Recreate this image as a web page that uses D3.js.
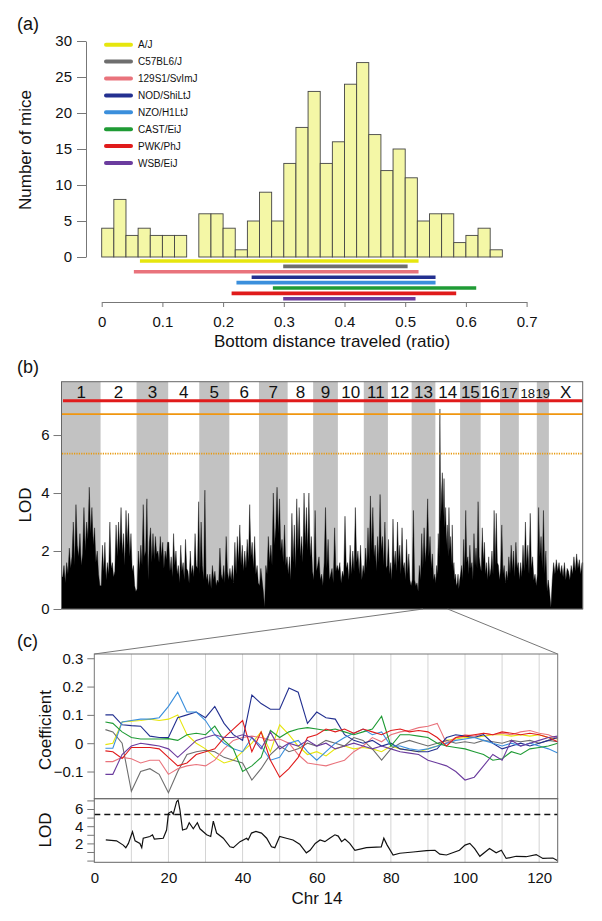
<!DOCTYPE html>
<html><head><meta charset="utf-8">
<script src="https://cdn.jsdelivr.net/npm/d3@7"></script>
<style>
body{margin:0;background:#fff}
text{font-family:"Liberation Sans",Arial,sans-serif;fill:#111}
</style>
</head><body>
<svg id="c" width="602" height="921"></svg>
<script>
// ---------------- Panel (a) data ----------------
const binStarts = [0,0.02,0.04,0.06,0.08,0.10,0.12,0.14,0.16,0.18,0.20,0.22,0.24,0.26,0.28,0.30,0.32,0.34,0.36,0.38,0.40,0.42,0.44,0.46,0.48,0.50,0.52,0.54,0.56,0.58,0.60,0.62,0.64];
const binWidth = 0.02;
const counts = [4,8,3,4,3,3,3,0,6,6,4,1,5,9,5,13,18,23,13,16,24,27,17,12,15,11,5,6,6,2,3,4,1];
const histYTicks = [0,5,10,15,20,25,30];
const histXTicks = [0,0.1,0.2,0.3,0.4,0.5,0.6,0.7];
const strainNames = ["A/J","C57BL6/J","129S1/SvImJ","NOD/ShiLtJ","NZO/H1LtJ","CAST/EiJ","PWK/PhJ","WSB/EiJ"];
const strainColors = ["#e6e60e","#6e6e6e","#e9737c","#233090","#3b8fdc","#1f9b35","#e01b1b","#6b3c9e"];
const rangeLo = [0.063,0.299,0.053,0.247,0.222,0.282,0.214,0.299];
const rangeHi = [0.522,0.504,0.522,0.550,0.550,0.617,0.584,0.517];

// ---------------- Panel (b) data ----------------
const chromNames = ["1","2","3","4","5","6","7","8","9","10","11","12","13","14","15","16","17","18","19","X"];
const chromLen = [195,182,160,157,152,150,145,129,125,131,122,120,120,125,104,98,95,91,61,171];
const scanLod = [
 [1.1,1.5,0.9,1.6,1.2,2.1,1.4,1.8,3.0,1.5,3.6,2.2,1.8,2.6,1.5,1.9,3.5,2.0,3.0,2.4,4.2,2.6,3.5,2.2,2.8,1.6,2.0,1.2,0.8],
 [0.8,2.2,1.3,2.3,1.0,1.6,1.2,3.0,1.4,1.6,1.1,1.3,2.9,1.8,3.0,2.0,3.5,1.9,2.6,1.5,3.4,2.2,3.3,1.8,2.6,1.3,1.5,0.8,0.6],
 [0.7,2.0,1.3,2.2,1.5,3.6,1.8,2.0,3.8,1.0,2.3,2.8,1.6,2.6,1.7,2.5,1.9,2.0,1.6,2.5,1.8,2.3,1.4,2.0,1.7,2.3],
 [2.3,1.3,1.8,1.1,2.6,1.5,2.0,1.2,1.5,0.9,2.2,1.3,1.6,1.0,2.4,1.4,1.3,0.9,2.0,1.2,1.5,1.1,2.6,1.5,1.4,3.7],
 [1.2,3.0,1.5,1.0,4.1,1.0,1.2,0.8,1.2,0.7,1.5,1.0,1.3,0.8,1.0,0.9,2.1,1.2,1.0,1.5,0.9,2.5,1.3,1.0],
 [1.4,1.0,1.5,0.9,2.3,1.2,2.5,1.6,2.9,1.5,2.2,1.3,2.0,1.4,2.4,1.6,3.6,1.8,2.3,1.4,2.5,1.2,1.5,0.9],
 [0.8,1.4,1.0,0.6,0.05,1.5,1.2,2.5,1.6,2.2,1.5,4.0,2.2,2.8,4.2,2.6,3.8,2.0,2.4,1.6,2.9,1.5,1.8],
 [1.2,1.8,1.0,3.3,1.6,2.9,1.4,3.8,2.0,3.5,1.8,2.5,1.6,4.0,2.2,3.5,2.0,4.0,1.8,2.5,1.3],
 [1.0,3.4,1.3,1.5,1.8,1.0,1.2,0.8,1.6,3.5,1.4,2.4,1.0,1.2,1.4,0.9,2.8,1.3,1.5],
 [1.3,1.6,0.9,1.3,1.1,3.2,1.4,1.6,1.0,2.2,1.2,2.0,1.3,3.5,1.6,2.0,1.2,2.2,1.0,1.5],
 [1.2,2.1,1.4,2.8,1.6,3.9,2.0,3.5,1.8,2.2,1.3,2.5,1.6,3.95,2.0,2.5,1.5,3.0,1.4,1.5],
 [2.4,1.2,1.6,1.0,3.1,1.5,2.0,1.3,3.0,1.6,2.2,1.2,2.8,1.4,1.6,1.0,2.4,1.2,1.9,1.0,0.8],
 [1.0,3.4,1.0,0.8,0.9,0.6,1.5,1.0,2.6,1.4,2.8,1.6,2.2,3.8,1.8,2.5,1.4,1.9,1.0,1.2],
 [0.9,1.5,1.2,2.6,1.8,6.9,3.0,4.0,4.7,3.2,4.5,2.8,3.5,2.2,2.9,1.8,3.5,2.0,2.5,1.5,2.9,1.3,1.6,1.0,1.2,0.8,0.9,1.2,0.7,1.0],
 [1.2,1.5,1.0,2.4,1.3,3.4,1.6,1.8,1.2,2.2,1.4,1.6,1.0,2.6,1.5,2.1,1.4,3.7,1.8,1.5],
 [1.3,2.8,1.6,2.3,1.2,1.6,1.0,1.8,1.1,1.4,2.0,1.2,3.4,1.5,3.3,1.6,1.5,1.0],
 [1.4,2.9,1.2,1.5,0.9,1.3,1.0,1.8,1.2,2.2,1.3,2.0,1.1,2.3,1.4,1.6],
 [1.0,1.6,1.1,2.2,1.3,3.0,1.5,2.2,1.2,3.3,1.4,1.8,1.0,1.2,0.8],
 [1.2,3.5,1.8,2.5,1.4,3.4,1.2,2.0,0.6,1.0],
 [0.6,0.05,1.0,1.6,1.2,1.7,1.3,1.6,1.2,1.5,1.1,1.6,1.0,1.4,1.3,1.0,1.5,1.2,1.8,1.3,1.9,1.4,1.7,1.2,1.6]
];
const scanYTicks = [0,2,4,6];
const thresholds = [7.18, 6.72, 5.36];

// ---------------- Panel (c) data ----------------
const coefPos = [3,5,7.5,10,12.5,15,17.5,20,22.5,25,27.5,30,32.5,35,37.5,40,42.5,45,47.5,50,52.5,55,57.5,60,62.5,65,67.5,70,72.5,75,77.5,80,82.5,85,87.5,90,92.5,95,97.5,100,102.5,105,107.5,110,112.5,115,117.5,120,122.5,125];
const coefAJ   = [-0.005,0.0,0.075,0.078,0.08,0.085,0.08,0.085,0.1,0.03,0.0,-0.02,-0.05,-0.07,-0.06,-0.03,0.0,0.04,-0.03,0.065,0.03,-0.01,-0.04,-0.03,-0.045,-0.02,-0.01,-0.02,-0.015,-0.02,-0.03,-0.01,-0.02,-0.025,-0.03,-0.02,-0.01,0.01,0.015,0.02,0.02,0.025,0.03,0.03,0.025,0.03,0.025,0.03,0.02,0.015];
const coefB6   = [0.048,0.04,0.0,-0.17,-0.1,-0.09,-0.11,-0.175,-0.1,-0.04,-0.03,-0.025,-0.03,-0.05,-0.06,-0.07,-0.13,-0.09,-0.04,-0.01,-0.03,-0.02,0.0,-0.01,0.01,0.0,-0.01,0.02,0.01,-0.02,-0.06,-0.02,0.0,0.01,0.0,-0.01,0.0,0.01,0.0,0.005,0.0,0.01,0.005,0.0,0.01,0.005,0.01,0.0,0.01,0.005];
const coef129  = [-0.065,-0.065,-0.05,-0.055,-0.07,-0.06,-0.06,-0.11,-0.09,-0.08,-0.075,-0.08,-0.06,-0.02,0.01,0.02,0.025,0.02,0.01,0.015,0.0,-0.04,-0.07,-0.075,-0.08,-0.07,-0.06,-0.03,-0.01,0.02,0.005,0.03,0.04,0.045,0.055,0.06,0.07,0.0,0.02,0.03,0.025,0.035,0.03,0.035,0.03,0.04,0.045,0.035,0.03,0.015];
const coefNOD  = [0.1,0.1,0.065,0.062,0.06,0.025,0.02,0.02,0.09,0.1,0.11,0.09,0.13,0.07,0.03,0.01,0.17,0.14,0.12,0.12,0.195,0.18,0.07,0.11,0.09,0.085,0.03,0.01,0.0,0.01,-0.01,0.0,-0.02,-0.025,-0.03,-0.03,-0.02,0.02,0.03,0.025,0.02,0.03,0.0,-0.02,-0.01,0.0,-0.01,0.0,0.01,0.02];
const coefNZO  = [-0.018,-0.018,0.075,0.08,0.085,0.085,0.09,0.13,0.18,0.11,0.11,0.08,0.03,0.0,-0.02,-0.03,0.02,-0.01,-0.06,-0.05,0.0,0.01,-0.03,-0.06,-0.03,0.0,0.02,0.035,0.05,0.03,0.04,-0.01,-0.01,-0.02,-0.025,-0.02,-0.01,0.0,0.01,0.015,0.02,0.01,0.0,-0.01,0.0,-0.01,0.0,-0.01,-0.02,-0.035];
const coefCAST = [0.075,0.07,0.04,0.02,0.015,0.015,0.015,0.016,0.01,0.03,0.035,0.03,0.06,0.01,-0.02,-0.1,-0.08,-0.05,0.045,0.02,0.04,0.05,0.055,0.05,0.045,0.05,0.04,0.03,0.04,0.05,0.095,-0.01,0.03,0.03,0.025,0.02,0.0,-0.01,-0.015,-0.02,-0.03,-0.04,-0.06,-0.055,-0.03,-0.04,-0.02,-0.015,-0.01,0.0];
const coefPWK  = [-0.027,-0.03,-0.054,-0.015,-0.015,-0.015,-0.02,-0.05,-0.08,-0.07,-0.04,-0.03,-0.02,0.02,0.05,0.08,-0.03,0.04,-0.06,-0.12,-0.09,-0.05,0.02,0.03,0.05,0.04,0.05,0.035,0.05,0.04,0.03,0.045,0.05,0.04,0.045,0.04,0.02,-0.01,0.02,0.025,0.03,0.035,0.03,0.04,0.035,0.03,0.035,0.03,0.02,0.005];
const coefWSB  = [-0.11,-0.11,-0.04,-0.01,0.0,-0.005,-0.01,-0.02,-0.05,-0.02,0.01,0.02,0.03,0.02,0.02,0.03,0.02,-0.02,0.04,-0.02,0.0,-0.01,0.01,-0.01,0.0,-0.02,-0.01,0.0,-0.01,-0.02,-0.01,-0.02,-0.03,-0.035,-0.04,-0.06,-0.07,-0.08,-0.1,-0.13,-0.12,-0.08,-0.04,-0.06,0.01,-0.01,0.0,0.01,0.02,0.025];
const coefSeries = [coefAJ,coefB6,coef129,coefNOD,coefNZO,coefCAST,coefPWK,coefWSB];
const lodPos = [3.1,6,7.8,8.5,9.2,10.3,11,12.3,12.8,13.2,15,15.7,16.2,18.6,19.5,20,20.8,21.3,22.2,22.6,23.1,23.8,24.9,25.6,26.7,27.8,28.5,30.3,31.4,32.1,33,34.8,36.6,37.5,39.3,41.1,41.5,42.4,43.6,45.1,46.5,47.8,48.7,50,51.8,53.6,55.4,57.2,58.2,59.6,60.9,62.2,63.5,64.9,65.8,66.7,67.6,68.9,70.3,73.4,77.4,78.1,79,80.6,82.4,86,89.6,91.9,93.2,95,98.5,100,101.3,102.6,104,106.6,108.4,109.8,111.1,113.8,116.5,119.2,121,123.7,124.9];
const lodVal = [2.4,2.3,1.8,1.5,2.0,3.35,2.3,2.0,1.5,2.6,2.8,3.0,2.5,2.6,3.55,5.5,5.7,5.4,6.85,7.05,5.9,3.55,3.7,4.4,3.7,4.4,3.7,3.0,2.8,4.6,3.2,2.6,1.6,1.5,2.2,2.6,2.4,3.2,3.4,3.2,2.6,1.6,1.5,2.8,2.6,2.4,1.9,0.9,1.2,2.0,2.4,2.2,2.6,3.0,2.85,2.2,2.5,2.0,1.2,1.5,1.6,2.6,1.8,0.65,0.85,1.0,1.15,1.2,0.75,0.65,1.2,1.8,2.0,1.4,0.5,1.4,0.9,1.2,0.25,0.5,0.45,0.7,0.25,0.3,0.02];
const coefYTicks = [-0.1,0,0.1,0.2,0.3];
const lodYTicks = [0,1,2,3,4,5,6,7];
const chrXTicks = [0,20,40,60,80,100,120];
const gridMb = [10,20,30,40,50,60,70,80,90,100,110,120];
const lodThreshold = 5.37;

// ================= drawing =================
const svg = d3.select("#c");
const axisCol = "#777";
function styleAxis(g){
  g.selectAll("path.domain").attr("stroke",axisCol);
  g.selectAll(".tick line").attr("stroke",axisCol);
  g.selectAll(".tick text").attr("fill","#111").style("font-family","'Liberation Sans',Arial,sans-serif");
}

// ----- Panel (a) -----
const xa = d3.scaleLinear().domain([0,0.7]).range([101.7,526.6]);
const ya = d3.scaleLinear().domain([0,30]).range([257,41]);
svg.append("text").attr("x",17).attr("y",30).attr("font-size",18).text("(a)");

svg.append("g").selectAll("rect").data(counts.map((c,i)=>({c,s:binStarts[i]})).filter(d=>d.c>0)).join("rect")
  .attr("x",d=>xa(d.s)).attr("width",d=>xa(d.s+binWidth)-xa(d.s))
  .attr("y",d=>ya(d.c)).attr("height",d=>ya(0)-ya(d.c))
  .attr("fill","#f4f7a6").attr("stroke","#444").attr("stroke-width",0.9);

const gya = svg.append("g").attr("transform","translate(86,0)")
  .call(d3.axisLeft(ya).tickValues(histYTicks).tickSize(9).tickSizeOuter(0).tickPadding(5));
gya.selectAll("text").attr("font-size",15);
styleAxis(gya);

const gxa = svg.append("g").attr("transform","translate(0,302)")
  .call(d3.axisBottom(xa).tickValues(histXTicks).tickSize(5).tickSizeOuter(0).tickPadding(9)
  .tickFormat(d=>d===0?"0":d3.format(".1f")(d)));
gxa.selectAll("text").attr("font-size",15);
styleAxis(gxa);

svg.append("text").attr("transform","translate(31,150) rotate(-90)").attr("text-anchor","middle")
  .attr("font-size",17).text("Number of mice");
svg.append("text").attr("x",332).attr("y",347).attr("text-anchor","middle").attr("font-size",17)
  .text("Bottom distance traveled (ratio)");

// legend
const leg = svg.append("g");
strainNames.forEach((n,i)=>{
  const y = 44.7 + i*16.9;
  leg.append("line").attr("x1",106).attr("x2",131).attr("y1",y).attr("y2",y)
    .attr("stroke",strainColors[i]).attr("stroke-width",4).attr("stroke-linecap","round");
  leg.append("text").attr("x",138).attr("y",y+3.6).attr("font-size",10).text(n);
});
// strain ranges
svg.append("g").selectAll("line").data(strainNames).join("line")
  .attr("x1",(d,i)=>xa(rangeLo[i])).attr("x2",(d,i)=>xa(rangeHi[i]))
  .attr("y1",(d,i)=>261+i*5.4).attr("y2",(d,i)=>261+i*5.4)
  .attr("stroke",(d,i)=>strainColors[i]).attr("stroke-width",3.6);

// ----- Panel (b) -----
const cum = []; let acc = 0; chromLen.forEach(l=>{cum.push(acc); acc+=l;});
const total = acc;
const xg = d3.scaleLinear().domain([0,total]).range([62,582.7]);
const yb = d3.scaleLinear().domain([0,7.84]).range([609,381.7]);
svg.append("text").attr("x",17).attr("y",373).attr("font-size",18).text("(b)");

svg.append("g").selectAll("rect").data(chromNames.map((n,i)=>i).filter(i=>i%2===0)).join("rect")
  .attr("x",i=>xg(cum[i])).attr("width",i=>xg(cum[i]+chromLen[i])-xg(cum[i]))
  .attr("y",yb(7.84)).attr("height",yb(0)-yb(7.84)).attr("fill","#c2c2c2");

const scanPts = [];
scanLod.forEach((arr,c)=>{
  arr.forEach((v,j)=>scanPts.push({p:cum[c]+chromLen[c]*(j+0.5)/arr.length, v}));
});
scanPts.unshift({p:0,v:scanLod[0][0]});
scanPts.push({p:total,v:scanLod[19][scanLod[19].length-1]});
svg.append("path").datum(scanPts)
  .attr("d",d3.area().x(d=>xg(d.p)).y0(yb(0)).y1(d=>yb(d.v)))
  .attr("fill","#000").attr("stroke","#000").attr("stroke-width",0.4);

// thresholds
svg.append("line").attr("x1",xg(0)+1).attr("x2",xg(total)).attr("y1",yb(thresholds[0])).attr("y2",yb(thresholds[0]))
  .attr("stroke","#e01b1b").attr("stroke-width",3);
svg.append("line").attr("x1",xg(0)).attr("x2",xg(total)).attr("y1",yb(thresholds[1])).attr("y2",yb(thresholds[1]))
  .attr("stroke","#f0960f").attr("stroke-width",1.6);
svg.append("line").attr("x1",xg(0)).attr("x2",xg(total)).attr("y1",yb(thresholds[2])).attr("y2",yb(thresholds[2]))
  .attr("stroke","#e89a10").attr("stroke-width",1.6).attr("stroke-dasharray","1.2,1.2");

// chromosome labels
svg.append("g").selectAll("text").data(chromNames).join("text")
  .attr("x",(d,i)=>xg(cum[i]+chromLen[i]/2)).attr("y",398).attr("text-anchor","middle")
  .attr("font-size",(d,i)=> i===16?15:(i===17||i===18)?13:17).text(d=>d);

// frame
svg.append("rect").attr("x",61.5).attr("y",yb(7.84)).attr("width",xg(total)-61.5).attr("height",yb(0)-yb(7.84))
  .attr("fill","none").attr("stroke","#666").attr("stroke-width",1);
const gyb = svg.append("g").attr("transform","translate(61.5,0)")
  .call(d3.axisLeft(yb).tickValues(scanYTicks).tickSize(8).tickSizeOuter(0).tickPadding(4));
gyb.select("path.domain").remove();
gyb.selectAll("text").attr("font-size",15);
styleAxis(gyb);
svg.append("text").attr("transform","translate(31,505) rotate(-90)").attr("text-anchor","middle")
  .attr("font-size",17).text("LOD");

// ----- Panel (c) -----
const xc = d3.scaleLinear().domain([0,125]).range([94.3,557.7]);
const yc = d3.scaleLinear().domain([-0.196,0.315]).range([798.7,654]);
const yl = d3.scaleLinear().domain([-0.2,7.2]).range([862.3,798.7]);
svg.append("text").attr("x",17).attr("y",647).attr("font-size",18).text("(c)");

// connector lines
const c14 = 13;
svg.append("line").attr("x1",xg(cum[c14]-chromLen[c14]/2)).attr("y1",yb(0)).attr("x2",xc(0)).attr("y2",yc(0.315))
  .attr("stroke","#777").attr("stroke-width",1);
svg.append("line").attr("x1",xg(cum[c14]+chromLen[c14]/2)).attr("y1",yb(0)).attr("x2",xc(125)).attr("y2",yc(0.315))
  .attr("stroke","#777").attr("stroke-width",1);

svg.append("g").selectAll("line").data(gridMb).join("line")
  .attr("x1",d=>xc(d)).attr("x2",d=>xc(d)).attr("y1",yc(0.315)).attr("y2",yl(-0.2))
  .attr("stroke","#d4d4d4").attr("stroke-width",1);

const lineGen = d3.line().x((d,i)=>xc(coefPos[i])).y(d=>yc(d));
svg.append("g").selectAll("path").data(coefSeries).join("path")
  .attr("d",d=>lineGen(d)).attr("fill","none")
  .attr("stroke",(d,i)=>strainColors[i]).attr("stroke-width",1.1);

svg.append("line").attr("x1",xc(0)).attr("x2",xc(125)).attr("y1",yl(lodThreshold)).attr("y2",yl(lodThreshold))
  .attr("stroke","#111").attr("stroke-width",1.6).attr("stroke-dasharray","6,4");
svg.append("path").datum(lodVal)
  .attr("d",d3.line().x((d,i)=>xc(lodPos[i])).y(d=>yl(d)))
  .attr("fill","none").attr("stroke","#111").attr("stroke-width",1.2);

svg.append("rect").attr("x",xc(0)).attr("y",yc(0.315)).attr("width",xc(125)-xc(0)).attr("height",yc(-0.196)-yc(0.315))
  .attr("fill","none").attr("stroke","#777");
svg.append("rect").attr("x",xc(0)).attr("y",yl(7.2)).attr("width",xc(125)-xc(0)).attr("height",yl(-0.2)-yl(7.2))
  .attr("fill","none").attr("stroke","#666");

const gyc = svg.append("g").attr("transform",`translate(${xc(0)},0)`)
  .call(d3.axisLeft(yc).tickValues(coefYTicks).tickSize(7).tickSizeOuter(0).tickPadding(4)
  .tickFormat(d=>d===0?"0":d3.format(".1f")(d)));
gyc.select("path.domain").remove();
gyc.selectAll("text").attr("font-size",15);
styleAxis(gyc);

const gyl = svg.append("g").attr("transform",`translate(${xc(0)},0)`)
  .call(d3.axisLeft(yl).tickValues(lodYTicks).tickSize(7).tickSizeOuter(0).tickPadding(4)
  .tickFormat(d=>(d===2||d===4||d===6)?d:""));
gyl.select("path.domain").remove();
gyl.selectAll("text").attr("font-size",15);
styleAxis(gyl);

const gxc = svg.append("g").attr("transform",`translate(0,${yl(-0.2)})`)
  .call(d3.axisBottom(xc).tickValues(chrXTicks).tickSize(0).tickPadding(10));
gxc.select("path.domain").remove();
gxc.selectAll("text").attr("font-size",15);
styleAxis(gxc);

svg.append("text").attr("transform","translate(51,730) rotate(-90)").attr("text-anchor","middle")
  .attr("font-size",17).text("Coefficient");
svg.append("text").attr("transform","translate(51,830) rotate(-90)").attr("text-anchor","middle")
  .attr("font-size",17).text("LOD");
svg.append("text").attr("x",317).attr("y",904).attr("text-anchor","middle").attr("font-size",17).text("Chr 14");
</script>
</body></html>
